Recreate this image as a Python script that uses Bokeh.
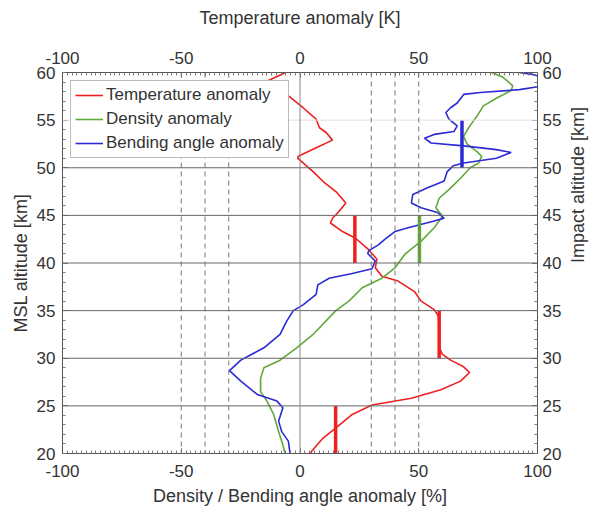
import math
from bokeh.plotting import figure
from bokeh.models import (Range1d, LinearAxis, SingleIntervalTicker, Span, Legend,
                          LegendItem, Label, PrintfTickFormatter)
from bokeh.embed import file_html
from bokeh.resources import INLINE

# ---------------- data ----------------
temp_alt = [60, 58.8, 58.3, 57.7, 56.3, 55.1, 54.2, 53.7, 52.9, 52.1, 51.2, 51.0, 49.6,
            48.5, 47.5, 46.3, 45.4, 44.7, 44.2, 43.3, 42.6, 41.4, 40.4, 39.5, 38.6,
            38.1, 37.0, 36.0, 35.1, 34.4, 33.0, 31.0, 30.4, 29.8, 29.1, 28.5, 27.6,
            26.7, 25.8, 25.1, 24.1, 22.7, 21.6, 20.2, 20.0]
temp_val = [-6, -16.5, -12.5, -5.6, 1.3, 6.8, 8.2, 11, 13.7, 6.8, -0.7, -1, 5.5,
            10, 15.1, 19.3, 16.4, 13.7, 12.8, 17.9, 23.4, 28.9, 32.4, 31.7, 34.5,
            41.3, 48.2, 51, 56.5, 58.3, 58.6, 58.8, 60, 63.4, 68.9, 71.4, 67.6,
            59.3, 46.9, 30.3, 22, 15.1, 9.6, 4.8, 4.5]

dens_alt = [60, 59.5, 58.6, 58.1, 57.3, 56.5, 55.4, 54.7, 54.2, 53.3, 52.5, 51.7, 51.2,
            50.5, 50.0, 48.9, 47.7, 46.8, 45.8, 44.9, 43.7, 42.3, 40.9, 39.5, 38.4,
            37.4, 36.0, 35.0, 32.5, 31.1, 29.8, 29.0, 27.9, 26.5, 25.5, 24.1, 22.3,
            20.9, 20.0]
dens_val = [80.7, 85.5, 89.6, 88.9, 82.7, 77.2, 74.5, 72.4, 71, 68.9, 70.3, 74.5, 76.5,
            75.2, 71.7, 67.6, 62.7, 58.6, 57.2, 60, 56.5, 51, 44.1, 40, 34.5,
            26.2, 20.6, 15.1, 5.5, -1.4, -8.4, -15.2, -16.6, -16.6, -13.9, -11.1, -9,
            -7.2, -6.3]

bend_alt = [60, 59.8, 59.2, 58.5, 58.2, 57.9, 57.7, 56.8, 56.3, 55.8, 55.1, 54.4, 53.8,
            53.5, 53.1, 52.6, 52.3, 51.9, 51.6, 51.0, 50.5, 50.2, 49.6, 48.6, 47.9,
            47.2, 46.3, 45.8, 45.3, 44.7, 44.4, 43.7, 43.3, 42.5, 41.9, 41.3, 41.0,
            40.2, 39.4, 38.9, 38.4, 37.7, 36.7, 35.6, 35.0, 33.9, 32.5, 31.1, 29.8,
            28.7, 27.6, 26.2, 25.5, 24.8, 23.4, 22.3, 21.3, 20.0]
bend_val = [92.4, 97.9, 106, 100, 92.4, 75.9, 68.9, 66.2, 63.4, 61.4, 62.7, 66.2, 64.8,
            56.5, 52.4, 55.2, 68.9, 82.7, 88.9, 82.7, 69, 64.5, 62, 60.7, 53.7,
            47.5, 46.9, 51, 57.9, 60.7, 56.5, 45.5, 40, 35.8, 33, 29, 28.5,
            31.7, 30.3, 22, 12.3, 7.5, 6.8, 1.3, -2.8, -5.6, -8.4, -15.2, -24.9,
            -29.7, -24.9, -18, -9.7, -7.2, -9, -7.7, -4.9, -4.2]

# uncertainty bars (value, bottom altitude, top altitude)
temp_bar_x = [15, 58.6, 23.1]
temp_bar_lo = [20, 30, 40]
temp_bar_hi = [25, 35, 45]
dens_bar_x = [50.3]
dens_bar_lo = [40]
dens_bar_hi = [45]
bend_bar_x = [68.2]
bend_bar_lo = [50]
bend_bar_hi = [55]

x_ticks_interval = 50
y_ticks_interval = 5
grid_alts = [25, 30, 35, 40, 45, 50]
light_grid_alts = [55]
dashed_refs = [-50, -40, -30, 30, 40, 50]
zero_ref = [0]

RED = "#ee2020"
GREEN = "#62a83a"
BLUE = "#2a2ad6"
FONT = "Liberation Sans"
TXT = "#333333"

p = figure(width=601, height=512, x_range=Range1d(-100, 100), y_range=Range1d(20, 60),
           output_backend="svg", toolbar_location=None,
           min_border_left=62, min_border_right=56, min_border_top=72, min_border_bottom=59)
p.extra_x_ranges = {"temp": Range1d(-100, 100)}
p.extra_y_ranges = {"impact": Range1d(20, 60)}
p.grid.visible = False
p.outline_line_color = "#555555"
p.background_fill_color = "white"
p.border_fill_color = "white"

bottom_axis = p.below[0]
left_axis = p.left[0]
bottom_axis.axis_label = "Density / Bending angle anomaly [%]"
left_axis.axis_label = "MSL altitude [km]"
top_axis = LinearAxis(x_range_name="temp", axis_label="Temperature anomaly [K]")
right_axis = LinearAxis(y_range_name="impact")
p.add_layout(top_axis, "above")
p.add_layout(right_axis, "right")

for ax in [bottom_axis, top_axis]:
    ax.ticker = SingleIntervalTicker(interval=x_ticks_interval, num_minor_ticks=25)
for ax in [left_axis, right_axis]:
    ax.ticker = SingleIntervalTicker(interval=y_ticks_interval, num_minor_ticks=5)

for ax in [bottom_axis, top_axis, left_axis, right_axis]:
    ax.formatter = PrintfTickFormatter(format="%d")
    ax.major_tick_in = 5
    ax.major_tick_out = 0
    ax.minor_tick_in = 3
    ax.minor_tick_out = 0
    ax.axis_line_color = "#555555"
    ax.major_tick_line_color = "#555555"
    ax.minor_tick_line_color = "#777777"
    ax.major_label_text_font = FONT
    ax.major_label_text_font_size = "17px"
    ax.major_label_text_color = TXT
    ax.axis_label_text_font = FONT
    ax.axis_label_text_font_size = "18px"
    ax.axis_label_text_font_style = "normal"
    ax.axis_label_text_color = TXT

top_axis.major_label_standoff = 9
top_axis.axis_label_standoff = 21
bottom_axis.major_label_standoff = 11
bottom_axis.axis_label_standoff = 6
left_axis.major_label_standoff = 7
left_axis.axis_label_standoff = 3
right_axis.major_label_standoff = 5
right_axis.axis_label_standoff = 14

# right axis title, reading bottom to top like the left one
right_title = "Impact altitude [km]"
if "axis_label_orientation" in right_axis.properties():
    right_axis.axis_label = right_title
    right_axis.axis_label_orientation = math.pi / 2
    right_axis.axis_label_text_align = "center"
    right_axis.axis_label_text_baseline = "middle"
else:
    p.add_layout(Label(x=518, y=191, x_units="screen", y_units="screen",
                       text=right_title, angle=math.pi / 2,
                       text_align="center", text_baseline="middle",
                       text_font=FONT, text_font_size="18px", text_color=TXT))

# reference lines
for a in grid_alts:
    p.add_layout(Span(location=a, dimension="width", line_color="#666666", line_width=1))
for a in light_grid_alts:
    p.add_layout(Span(location=a, dimension="width", line_color="#e0e0e0", line_width=1))
for xv in dashed_refs:
    p.add_layout(Span(location=xv, dimension="height", line_color="#777777", line_width=1,
                      line_dash="5 4"))
for xv in zero_ref:
    p.add_layout(Span(location=xv, dimension="height", line_color="#888888", line_width=1))

r_t = p.line(temp_val, temp_alt, line_color=RED, line_width=1.6, x_range_name="temp")
r_d = p.line(dens_val, dens_alt, line_color=GREEN, line_width=1.6)
r_b = p.line(bend_val, bend_alt, line_color=BLUE, line_width=1.6)

p.segment(x0=temp_bar_x, y0=temp_bar_lo, x1=temp_bar_x, y1=temp_bar_hi,
          line_color=RED, line_width=3.5, x_range_name="temp")
p.segment(x0=dens_bar_x, y0=dens_bar_lo, x1=dens_bar_x, y1=dens_bar_hi,
          line_color=GREEN, line_width=3.5)
p.segment(x0=bend_bar_x, y0=bend_bar_lo, x1=bend_bar_x, y1=bend_bar_hi,
          line_color=BLUE, line_width=3.5)

legend = Legend(items=[LegendItem(label="Temperature anomaly", renderers=[r_t]),
                       LegendItem(label="Density anomaly", renderers=[r_d]),
                       LegendItem(label="Bending angle anomaly", renderers=[r_b])],
                location="top_left")
legend.label_text_font = FONT
legend.label_text_font_size = "17px"
legend.label_text_color = TXT
legend.border_line_color = "#777777"
legend.background_fill_alpha = 1.0
legend.glyph_width = 28
legend.glyph_height = 20
legend.label_height = 20
legend.spacing = 4
legend.padding = 4
legend.margin = 8
legend.label_standoff = 3
p.add_layout(legend)

open("out.html", "w").write(file_html(p, INLINE))
